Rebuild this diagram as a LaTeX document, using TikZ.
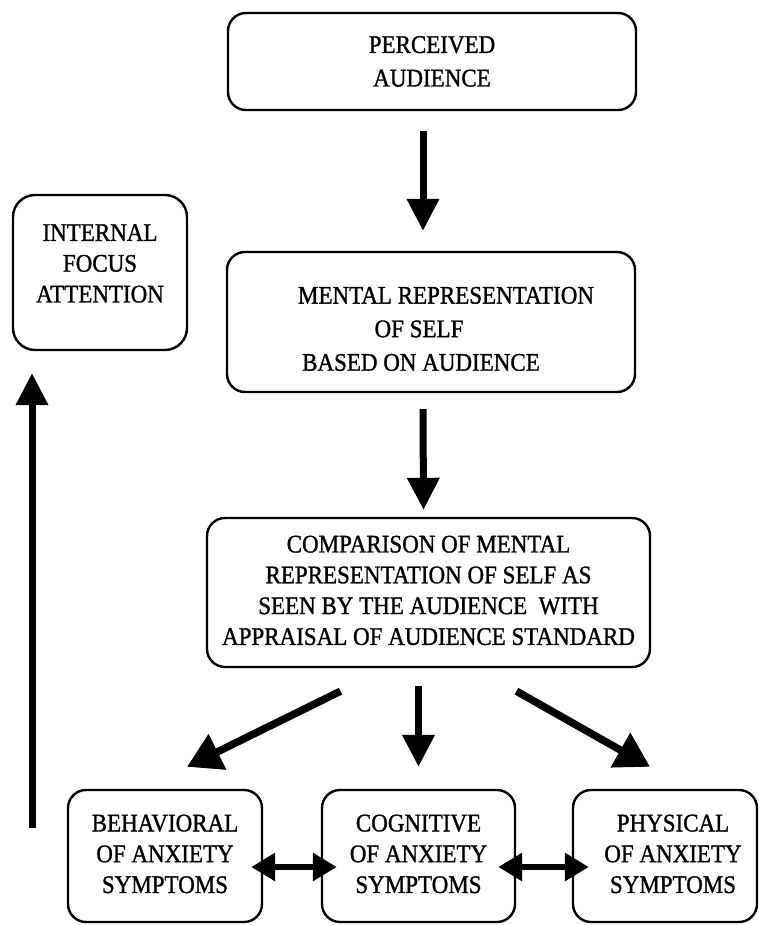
\documentclass[tikz,border=0pt]{standalone}
\usepackage{graphicx}
\usepackage{fontspec}
\setmainfont{Liberation Serif}[FakeBold=1.2]
\usetikzlibrary{arrows.meta}

% stacked, centred lines of a box label; #1 lowers the ink without moving the box
\newcommand{\boxlines}[2][0pt]{\raisebox{#1}[\height][\depth]{\scalebox{1}[1.1]{\begin{tabular}{@{}c@{}}#2\end{tabular}}}}

\tikzset{
  stagebox/.style={draw=black, line width=2.4pt, rounded corners=18pt,
    fill=white, inner sep=0pt, font=\fontsize{23}{28}\selectfont},
  flow/.style={line width=7pt, -{Triangle[length=32pt,width=31pt]}},
  splitflow/.style={line width=7.5pt, -{Triangle[length=34pt,width=38pt]}},
  mutual/.style={line width=6pt,
    {Triangle[length=24pt,width=27pt]}-{Triangle[length=24pt,width=27pt]}},
}

\begin{document}
\begin{tikzpicture}[x=1pt, y=-1pt]
  \useasboundingbox[fill=white] (0,0) rectangle (758,925);

  % boxes
  \node[stagebox, minimum width=408pt, minimum height=97pt] (perc) at (432,61.5)
    {\boxlines[-2pt]{PERCEIVED\\[2.5pt]AUDIENCE}};
  \node[stagebox, rounded corners=22pt, minimum width=174pt, minimum height=155pt] (internal) at (100,272.5)
    {\boxlines[7pt]{INTERNAL\\FOCUS\\ATTENTION}};
  \node[stagebox, minimum width=408pt, minimum height=140pt] (mental) at (431,322)
    {\boxlines[-9pt]{\hspace*{30pt}MENTAL REPRESENTATION\\[2.5pt]\hspace*{-24pt}OF SELF\\[2.5pt]\hspace*{-20pt}BASED ON AUDIENCE}};
  \node[stagebox, minimum width=443pt, minimum height=149pt] (comp) at (428.5,592.5)
    {\boxlines{COMPARISON OF MENTAL\\REPRESENTATION OF SELF AS\\SEEN BY THE AUDIENCE\ \ WITH\\APPRAISAL OF AUDIENCE STANDARD}};
  \node[stagebox, minimum width=194pt, minimum height=132pt] (beh) at (165,856)
    {\boxlines{BEHAVIORAL\\OF ANXIETY\\SYMPTOMS}};
  \node[stagebox, minimum width=193pt, minimum height=132pt] (cog) at (418.5,856)
    {\boxlines{COGNITIVE\\OF ANXIETY\\SYMPTOMS}};
  \node[stagebox, minimum width=184pt, minimum height=132pt] (phys) at (665,856)
    {\boxlines{\hspace*{16pt}PHYSICAL\\\hspace*{16pt}OF ANXIETY\\\hspace*{16pt}SYMPTOMS}};

  % main chain
  \draw[flow] ([xshift=-9pt,yshift=-20pt]perc.south) -- ([xshift=-8pt,yshift=20pt]mental.north);
  \draw[flow] ([xshift=-8pt,yshift=-16pt]mental.south) -- ([xshift=-5pt,yshift=7pt]comp.north);

  % split into the three symptom groups
  \draw[splitflow] ([xshift=-88pt,yshift=-23pt]comp.south) -- ([xshift=22pt,yshift=22pt]beh.north);
  \draw[flow] ([xshift=-10pt,yshift=-18pt]comp.south) -- ([yshift=22pt]cog.north);
  \draw[splitflow] ([xshift=88pt,yshift=-23pt]comp.south) -- ([xshift=-15pt,yshift=22pt]phys.north);

  % links between the symptom groups
  \draw[mutual] ([xshift=-12pt,yshift=-11pt]beh.east) -- ([xshift=16pt,yshift=-11pt]cog.west);
  \draw[mutual] ([xshift=-18pt,yshift=-11pt]cog.east) -- ([xshift=17pt,yshift=-11pt]phys.west);

  % feedback to internal focus
  \coordinate (loopfoot) at (32,828);
  \draw[flow] (loopfoot) -- ([xshift=-68pt,yshift=-22pt]internal.south);
\end{tikzpicture}
\end{document}
